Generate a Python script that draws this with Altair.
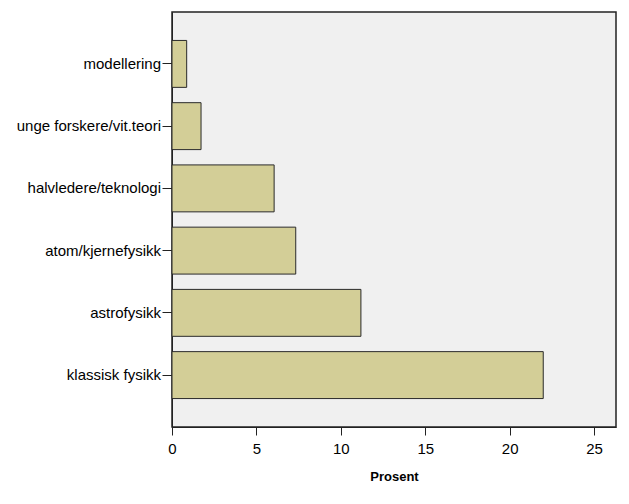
import altair as alt
import pandas as pd

categories = ["modellering", "unge forskere/vit.teori", "halvledere/teknologi",
              "atom/kjernefysikk", "astrofysikk", "klassisk fysikk"]
values = [0.87, 1.72, 6.05, 7.33, 11.19, 21.99]
x_ticks = [0, 5, 10, 15, 20, 25]

df = pd.DataFrame({"Emne": categories, "Prosent": values})

FONT = "Liberation Sans"

chart = alt.Chart(df).mark_bar(
    color="#d3ce97", stroke="#2a2a2a", strokeWidth=1
).encode(
    x=alt.X("Prosent:Q",
            scale=alt.Scale(domain=[0, 26.3], nice=False, zero=True),
            axis=alt.Axis(values=x_ticks, title="Prosent", grid=False,
                          tickSize=8, labelPadding=6, labelFontSize=15,
                          labelFont=FONT, labelColor="#000000",
                          titleFont=FONT, titleFontSize=13, titleFontWeight="bold",
                          titleColor="#000000", titlePadding=14,
                          domainColor="#222222", tickColor="#222222",
                          labelFlush=False)),
    y=alt.Y("Emne:N", sort=categories,
            scale=alt.Scale(paddingInner=0.246, paddingOuter=0.457),
            axis=alt.Axis(title=None, tickSize=10, labelPadding=1.5,
                          labelFontSize=15, labelFont=FONT, labelColor="#000000",
                          domainColor="#222222", tickColor="#222222",
                          labelLimit=300)),
).properties(
    width=444, height=415,
    background="#ffffff",
    autosize=alt.AutoSizeParams(type="none"),
    padding={"left": 164, "top": 4, "right": 5, "bottom": 69},
).configure_view(
    fill="#f0f0f0", stroke="#222222", strokeWidth=1.5
)

chart.save("out.html", embed_options={"renderer": "svg", "actions": False})
